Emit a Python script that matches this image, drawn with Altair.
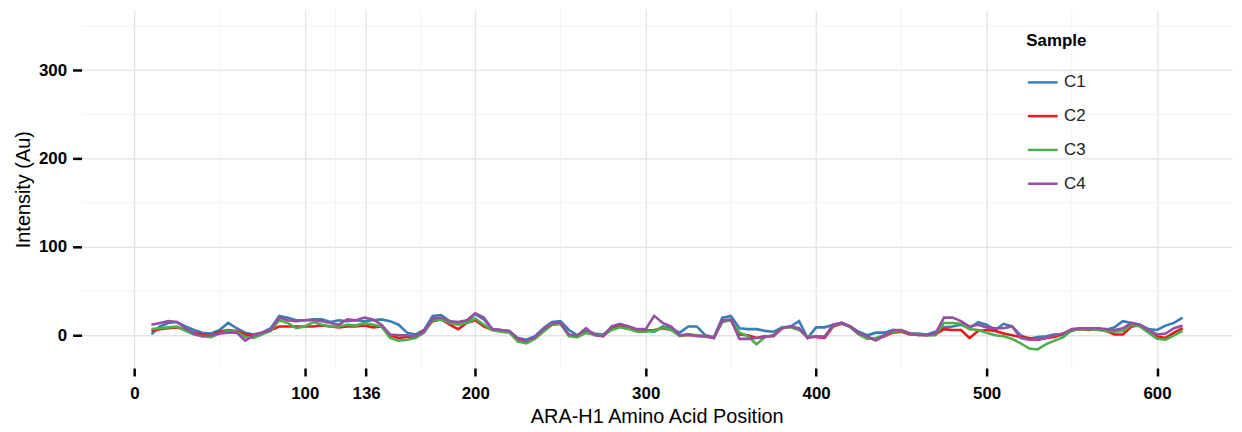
import altair as alt
import pandas as pd

positions = list(range(10, 616, 5))

c1 = [1, 10, 14, 15, 10, 6, 3, 2, 6, 14,
      8, 3, 1, 3, 8, 22, 20, 17, 17, 18,
      18, 15, 17, 16, 17, 16, 17, 18, 16, 12,
      3, 1, 6, 22, 23, 16, 14, 15, 24, 18,
      7, 6, 5, -3, -5, -1, 8, 15, 16, 6,
      0, 5, 2, 1, 8, 12, 10, 6, 6, 4,
      10, 8, 3, 10, 10, 0, -2, 20, 22, 8,
      7, 7, 5, 4, 9, 10, 16, -3, 9, 9,
      12, 14, 10, 4, 0, 3, 3, 6, 5, 2,
      2, 1, 4, 9, 10, 12, 8, 15, 12, 6,
      13, 10, 0, -4, -2, -1, 1, 0, 5, 8,
      7, 8, 6, 9, 16, 14, 12, 7, 6, 11, 14, 20]

c2 = [5, 7, 8, 9, 6, 3, 1, 0, 4, 6,
      5, 1, 0, 3, 6, 10, 10, 10, 10, 10,
      11, 10, 9, 10, 10, 11, 9, 10, 0, -3,
      -2, -2, 5, 16, 18, 12, 7, 14, 17, 10,
      6, 5, 4, -5, -7, -3, 5, 12, 13, 0,
      -1, 3, 1, -1, 7, 10, 8, 5, 5, 6,
      8, 6, 0, 0, 0, -1, -3, 16, 17, 1,
      0, -3, -1, -1, 8, 10, 7, -2, -2, -3,
      10, 13, 10, 2, -3, -5, -1, 3, 4, 1,
      1, 0, 1, 7, 6, 6, -3, 5, 6, 5,
      2, 0, -2, -3, -5, -3, -2, 2, 6, 7,
      6, 7, 5, 1, 1, 10, 11, 5, -1, -3, 3, 8]

c3 = [7, 8, 9, 10, 5, 1, -1, -2, 2, 5,
      4, -2, -3, 1, 5, 17, 14, 8, 10, 15,
      12, 10, 10, 12, 11, 14, 12, 10, -3, -6,
      -5, -3, 3, 17, 18, 14, 12, 14, 19, 12,
      6, 4, 3, -7, -9, -4, 4, 12, 13, -1,
      -2, 3, 1, 0, 6, 9, 7, 4, 4, 5,
      9, 6, -1, 1, 0, -2, -2, 15, 17, 3,
      -1, -10, -2, 0, 9, 9, 6, -2, -1, -1,
      11, 14, 9, 1, -4, -3, 0, 4, 5, 2,
      1, 0, 0, 14, 14, 13, 7, 6, 3, 0,
      -1, -4, -9, -15, -16, -10, -6, -2, 6, 7,
      7, 6, 5, 4, 5, 12, 10, 3, -4, -5, 0, 5]

c4 = [12, 14, 16, 15, 8, 2, -1, 0, 2, 3,
      3, -6, 0, 3, 6, 20, 17, 16, 17, 17,
      16, 14, 12, 18, 17, 20, 18, 12, 1, 0,
      0, -1, 4, 19, 20, 16, 15, 17, 25, 20,
      7, 6, 5, -4, -6, -2, 7, 14, 14, 1,
      0, 8, 0, -1, 10, 13, 10, 7, 7, 22,
      14, 10, 0, 1, -1, -1, -3, 17, 18, -4,
      -4, -3, -2, 0, 8, 10, 8, -3, -1, -2,
      12, 14, 10, 2, -1, -6, 0, 6, 6, 2,
      0, 0, 2, 20, 20, 16, 10, 12, 9, 8,
      8, 10, -3, -5, -5, -3, 0, 2, 7, 8,
      8, 8, 7, 6, 8, 14, 12, 6, 1, 2, 8, 11]

samples = ["C1", "C2", "C3", "C4"]
colors = ["#377EB8", "#E41A1C", "#4DAF4A", "#984EA3"]

x_major = [0, 100, 136, 200, 300, 400, 500, 600]
x_minor = [50, 118, 168, 250, 350, 450, 550]
y_major = [0, 100, 200, 300]
y_minor = [50, 150, 250, 350]

rows = []
for name, series in zip(samples, [c1, c2, c3, c4]):
    for p, v in zip(positions, series):
        rows.append({"pos": p, "val": v, "Sample": name})
df = pd.DataFrame(rows)

FONT = "Liberation Sans"
xscale = alt.Scale(domain=[-31, 644], nice=False, zero=False)
yscale = alt.Scale(domain=[-37, 367.5], nice=False, zero=False)

minor_x = alt.Chart(pd.DataFrame({"x": x_minor})).mark_rule(
    color="#F2F2F2", strokeWidth=1
).encode(x=alt.X("x:Q", scale=xscale))

minor_y = alt.Chart(pd.DataFrame({"y": y_minor})).mark_rule(
    color="#F2F2F2", strokeWidth=1
).encode(y=alt.Y("y:Q", scale=yscale))

lines = alt.Chart(df).mark_line(strokeWidth=2.6).encode(
    x=alt.X("pos:Q", scale=xscale,
            axis=alt.Axis(values=x_major, title="ARA-H1 Amino Acid Position",
                          tickSize=8, labelPadding=10, titlePadding=5)),
    y=alt.Y("val:Q", scale=yscale,
            axis=alt.Axis(values=y_major, title="Intensity (Au)",
                          tickSize=9, labelPadding=6, titlePadding=5)),
    color=alt.Color("Sample:N",
                    scale=alt.Scale(domain=samples, range=colors),
                    legend=alt.Legend(orient="none", legendX=951, legendY=23,
                                      symbolType="stroke", symbolSize=900,
                                      symbolStrokeWidth=2.5, labelFontSize=17,
                                      titleFontSize=17, titleFontWeight="bold",
                                      rowPadding=9, labelOffset=5, titlePadding=16,
                                      labelColor="#222222", titleColor="#000000")),
    order=alt.Order("pos:Q"),
)

chart = alt.layer(minor_x, minor_y, lines).properties(
    width=1158, height=360,
    padding={"left": 74, "top": 1, "right": 2, "bottom": 62},
    autosize=alt.AutoSizeParams(type="none"),
).configure_view(stroke=None).configure_axis(
    domain=False, grid=True, gridColor="#E3E3E3", gridWidth=1.3,
    tickColor="#000000", tickWidth=2.5,
    labelFont=FONT, labelFontSize=17, labelFontWeight="bold", labelColor="#000000",
    titleFont=FONT, titleFontSize=20, titleFontWeight="normal", titleColor="#000000",
).configure_legend(labelFont=FONT, titleFont=FONT)

chart.save("out.html", embed_options={"renderer": "svg", "actions": False})
